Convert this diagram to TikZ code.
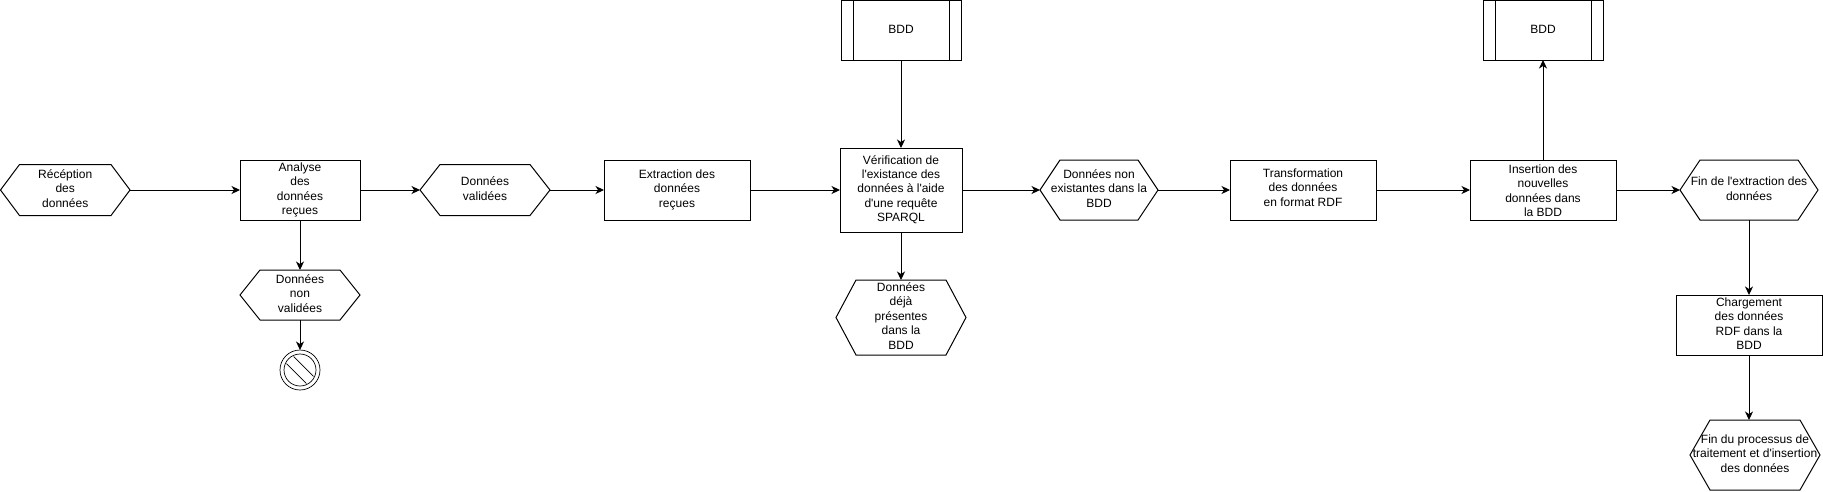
\documentclass[tikz,border=0pt]{standalone}
\usepackage{fontspec}
\newfontfamily\drawfont{Liberation Sans}
\usetikzlibrary{arrows.meta}
\tikzset{
  x=1pt,y=-1pt,
  outline/.style={draw=black,line width=1pt,line join=miter},
  conn/.style={draw=black,line width=1pt,-{Stealth[length=8.5pt,width=8pt,inset=2.5pt]}},
  hconn/.style={conn,yshift=-0.5pt},
  vconn/.style={conn,xshift=0.5pt},
  holder/.style={rectangle,inner sep=0pt,outer sep=0pt,font=\drawfont\fontsize{12}{14.4}\selectfont},
  stoprim/.style={circle,draw=black,line width=0.7pt,inner sep=0pt,outer sep=0pt,minimum size=40pt},
  stopinner/.style={circle,draw=black,line width=0.7pt,inner sep=0pt,outer sep=0pt,minimum size=32pt},
  stopbar/.style={draw=black,line width=0.7pt}
}
\newcommand{\lbl}[1]{\makebox[0pt]{\begin{tabular}{@{}c@{}}#1\end{tabular}}}
\newcommand{\nudged}[2]{\raisebox{#1}[\height][\depth]{#2}}
% name, x1, x2, y1, y2, text
\newcommand{\boxn}[6]{\node[holder,outline,minimum width={(#3-#2)*1pt},minimum height={(#5-#4)*1pt}] (#1) at ({(#2+#3)/2},{(#4+#5)/2}) {#6};}
% name, x1, x2, y1, y2, inset, text
\newcommand{\hexn}[7]{\node[holder,minimum width={(#3-#2)*1pt},minimum height={(#5-#4)*1pt}] (#1) at ({(#2+#3)/2},{(#4+#5)/2}) {#7};
  \draw[outline] (#1.west) -- ([xshift=#6pt]#1.north west) -- ([xshift=-#6pt]#1.north east) -- (#1.east) -- ([xshift=-#6pt]#1.south east) -- ([xshift=#6pt]#1.south west) -- cycle;}
% name, x1, x2, y1, y2, bar, text
\newcommand{\dbn}[7]{\node[holder,outline,minimum width={(#3-#2)*1pt},minimum height={(#5-#4)*1pt}] (#1) at ({(#2+#3)/2},{(#4+#5)/2}) {#7};
  \draw[outline] ([xshift=#6pt]#1.north west) -- ([xshift=#6pt]#1.south west);
  \draw[outline] ([xshift=-#6pt]#1.north east) -- ([xshift=-#6pt]#1.south east);}
\begin{document}
\begin{tikzpicture}
\useasboundingbox[fill=white] (0,0) rectangle (1823,491);
\hexn{recep}{0.5}{130}{164.5}{215.5}{19}{\lbl{Récéption\\des\\données}}
\boxn{analyse}{240}{360}{160}{220}{\lbl{Analyse\\des\\données\\reçues}}
\hexn{valid}{420}{550}{164.5}{215.5}{20}{\lbl{Données\\validées}}
\hexn{nonvalid}{240}{360}{270}{320}{20}{\lbl{Données\\non\\validées}}
\node[stoprim] (stop) at (300,370) {};
\node[stopinner] (stopin) at (stop.center) {};
\draw[stopbar] (stopin.center) ++(-13.5,-6.3) -- ++(19.8,19.8);
\draw[stopbar] (stopin.center) ++(-6.3,-13.5) -- ++(19.8,19.8);
\boxn{extract}{604}{750}{160}{220}{\lbl{Extraction des\\données\\reçues}}
\dbn{bdda}{841}{961}{0.5}{60}{12}{\lbl{BDD}}
\boxn{verif}{840}{962}{148}{232}{\lbl{Vérification de\\l'existance des\\données à l'aide\\d'une requête\\SPARQL}}
\hexn{deja}{836}{966}{280}{355}{20}{\lbl{Données\\déjà\\présentes\\dans la\\BDD}}
\hexn{nonex}{1040}{1158}{160}{220}{20}{\lbl{Données non\\existantes dans la\\BDD}}
\boxn{transf}{1230}{1376}{160}{220}{\nudged{1pt}{\lbl{Transformation\\des données\\en format RDF}}}
\boxn{insert}{1470}{1616}{160}{220}{\nudged{-2pt}{\lbl{Insertion des\\nouvelles\\données dans\\la BDD}}}
\dbn{bddb}{1483}{1603}{0.5}{60}{12}{\lbl{BDD}}
\hexn{finext}{1680}{1818}{160}{220}{20}{\lbl{Fin de l'extraction des\\données}}
\boxn{charg}{1676}{1822}{295}{355}{\lbl{Chargement\\des données\\RDF dans la\\BDD}}
\hexn{finproc}{1690}{1820}{420}{490}{20}{\lbl{Fin du processus de\\traitement et d'insertion\\des données}}
\draw[hconn] (recep.east) -- (analyse.west);
\draw[hconn] (analyse.east) -- (valid.west);
\draw[hconn] (valid.east) -- (extract.west);
\draw[vconn] (analyse.south) -- (nonvalid.north);
\draw[vconn] (nonvalid.south) -- (stop.north);
\draw[hconn] (extract.east) -- (verif.west);
\draw[vconn] (bdda.south) -- (verif.north);
\draw[vconn] (verif.south) -- (deja.north);
\draw[hconn] (verif.east) -- (nonex.west);
\draw[conn] (nonex.east) -- (transf.west);
\draw[hconn] (transf.east) -- (insert.west);
\draw[vconn] (insert.north) -- (bddb.south);
\draw[hconn] (insert.east) -- (finext.west);
\draw[vconn] (finext.south) -- (charg.north);
\draw[conn] (charg.south) -- (charg.south |- finproc.north);
\end{tikzpicture}
\end{document}
